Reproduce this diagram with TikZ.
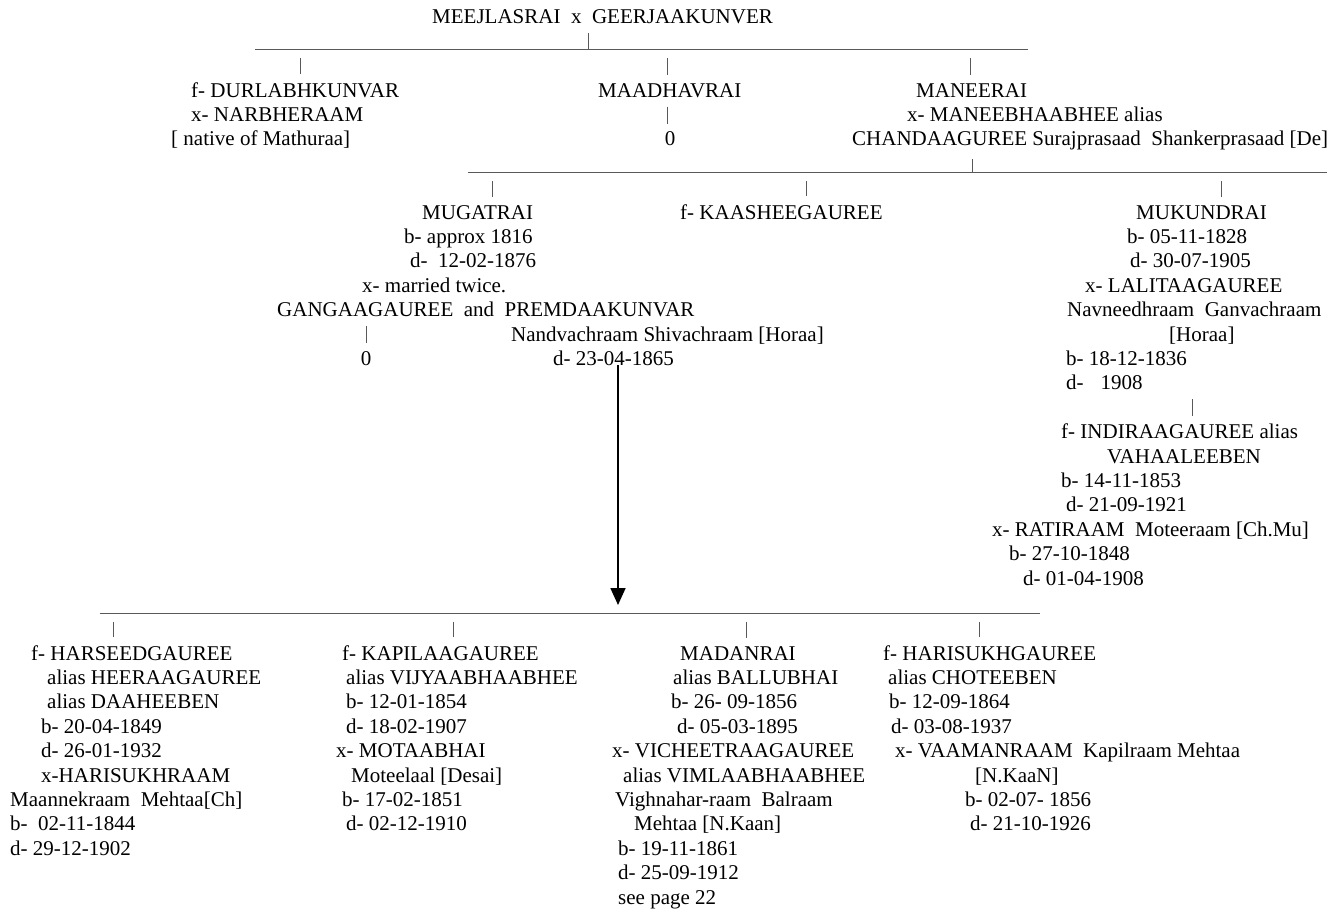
\documentclass[tikz,border=0pt]{standalone}
\usepackage{fontspec}
\setmainfont{Liberation Serif}
\usetikzlibrary{arrows.meta, calc}

\tikzset{
    txt/.style={anchor=base west, inner sep=0pt, font=\fontsize{21bp}{24bp}\selectfont},
    barline/.style={draw=black!65, line width=1bp},
    stemline/.style={draw=black!65, line width=1bp, shorten <=9bp, shorten >=8bp},
    arrowline/.style={draw=black, line width=1.6bp, shorten >=8bp, -{Triangle[width=15bp, length=17bp]}}
}

\begin{document}
\begin{tikzpicture}[x=1bp, y=-1bp]
    \useasboundingbox (0,0) rectangle (1338,913);

    \node [txt] (head) at (432, 23.5) {MEEJLASRAI\ \ x\ \ GEERJAAKUNVER};

    \coordinate (bar1l) at (255, 49); \coordinate (bar1r) at (1028, 49); \coordinate (j1) at (588, 49);
    \coordinate (p11) at (300, 49); \coordinate (p12) at (667, 49); \coordinate (p13) at (970, 49);

    \node [txt] (durlabh) at (191, 97) {f- DURLABHKUNVAR};
    \node [txt] (narbh) at (191, 121.4) {x- NARBHERAAM};
    \node [txt] (mathura) at (171, 145.8) {[ native of Mathuraa]};
    \node [txt] (maadhav) at (598, 97) {MAADHAVRAI};
    \node [txt, anchor=base] (m0) at (670, 145.8) {0};
    \node [txt] (maneerai) at (916, 97) {MANEERAI};
    \node [txt] (manwife) at (907, 121.4) {x- MANEEBHAABHEE alias};
    \node [txt] (chanda) at (852, 145.8) {CHANDAAGUREE Surajprasaad\ \ Shankerprasaad [De]};

    \coordinate (bar2l) at (468, 172); \coordinate (bar2r) at (1327, 172); \coordinate (j2) at (972, 172);
    \coordinate (p21) at (492, 172); \coordinate (p22) at (806, 172); \coordinate (p23) at (1221, 172);

    \node [txt] (mugat) at (422, 219) {MUGATRAI};
    \node [txt] (mugb) at (404, 243.4) {b- approx 1816};
    \node [txt] (mugd) at (410, 267.8) {d-\ \ 12-02-1876};
    \node [txt] (mugx) at (362, 292.2) {x- married twice.};
    \node [txt] (mugwives) at (277, 316.6) {GANGAAGAUREE\ \ and\ \ PREMDAAKUNVAR};
    \node [txt, anchor=base] (g0) at (366, 365.4) {0};
    \node [txt] (nandv) at (511, 341) {Nandvachraam Shivachraam [Horaa]};
    \node [txt] (dmug) at (553, 365.4) {d- 23-04-1865};
    \node [txt] (kaashee) at (680, 219) {f- KAASHEEGAUREE};

    \node [txt] (mukund) at (1136, 219) {MUKUNDRAI};
    \node [txt] (mukb) at (1127, 243.4) {b- 05-11-1828};
    \node [txt] (mukd) at (1130, 267.8) {d- 30-07-1905};
    \node [txt] (mukx) at (1085, 292.2) {x- LALITAAGAUREE};
    \node [txt] (navn) at (1067, 316.6) {Navneedhraam\ \ Ganvachraam};
    \node [txt] (horaa) at (1169, 341) {[Horaa]};
    \node [txt] (lalb) at (1066, 365.4) {b- 18-12-1836};
    \node [txt] (lald) at (1066, 389.8) {d-\hspace{17bp}1908};
    \coordinate (s3) at (1192, 407);
    \node [txt] (indira) at (1061, 438.6) {f- INDIRAAGAUREE alias};
    \node [txt] (vahaal) at (1107, 463) {VAHAALEEBEN};
    \node [txt] (indb) at (1061, 487.4) {b- 14-11-1853};
    \node [txt] (indd) at (1066, 511.8) {d- 21-09-1921};
    \node [txt] (ratix) at (992, 536.2) {x- RATIRAAM\ \ Moteeraam [Ch.Mu]};
    \node [txt] (ratib) at (1009, 560.6) {b- 27-10-1848};
    \node [txt] (ratid) at (1023, 585) {d- 01-04-1908};

    \coordinate (bar3l) at (100, 613); \coordinate (bar3r) at (1040, 613); \coordinate (a3) at (618, 613);
    \coordinate (p31) at (113, 613); \coordinate (p32) at (453, 613); \coordinate (p33) at (746, 613); \coordinate (p34) at (979, 613);

    \node [txt] (harseed) at (31, 660) {f- HARSEEDGAUREE};
    \node [txt] (heeraa) at (47, 684.4) {alias HEERAAGAUREE};
    \node [txt] (daahee) at (47, 708.8) {alias DAAHEEBEN};
    \node [txt] (hb) at (41, 733.2) {b- 20-04-1849};
    \node [txt] (hd) at (41, 757.6) {d- 26-01-1932};
    \node [txt] (hx) at (41, 782) {x-HARISUKHRAAM};
    \node [txt] (maannek) at (10, 806.4) {Maannekraam\ \ Mehtaa[Ch]};
    \node [txt] (hxb) at (10, 830.8) {b-\ \ 02-11-1844};
    \node [txt] (hxd) at (10, 855.2) {d- 29-12-1902};

    \node [txt] (kapilaa) at (342, 660) {f- KAPILAAGAUREE};
    \node [txt] (vijyaa) at (346, 684.4) {alias VIJYAABHAABHEE};
    \node [txt] (kb) at (346, 708.8) {b- 12-01-1854};
    \node [txt] (kd) at (346, 733.2) {d- 18-02-1907};
    \node [txt] (kx) at (336, 757.6) {x- MOTAABHAI};
    \node [txt] (moteel) at (351, 782) {Moteelaal [Desai]};
    \node [txt] (kxb) at (342, 806.4) {b- 17-02-1851};
    \node [txt] (kxd) at (346, 830.8) {d- 02-12-1910};

    \node [txt] (madan) at (680, 660) {MADANRAI};
    \node [txt] (ballu) at (673, 684.4) {alias BALLUBHAI};
    \node [txt] (mb) at (671, 708.8) {b- 26- 09-1856};
    \node [txt] (md) at (677, 733.2) {d- 05-03-1895};
    \node [txt] (mx) at (612, 757.6) {x- VICHEETRAAGAUREE};
    \node [txt] (vimlaa) at (623, 782) {alias VIMLAABHAABHEE};
    \node [txt] (vighn) at (615, 806.4) {Vighnahar-raam\ \ Balraam};
    \node [txt] (mehtaa) at (634, 830.8) {Mehtaa [N.Kaan]};
    \node [txt] (mxb) at (618, 855.2) {b- 19-11-1861};
    \node [txt] (mxd) at (618, 879.6) {d- 25-09-1912};
    \node [txt] (seep) at (618, 904) {see page 22};

    \node [txt] (harisukh) at (883, 660) {f- HARISUKHGAUREE};
    \node [txt] (chotee) at (888, 684.4) {alias CHOTEEBEN};
    \node [txt] (sb) at (889, 708.8) {b- 12-09-1864};
    \node [txt] (sd) at (891, 733.2) {d- 03-08-1937};
    \node [txt] (sx) at (895, 757.6) {x- VAAMANRAAM\ \ Kapilraam Mehtaa};
    \node [txt] (nkaan) at (975, 782) {[N.KaaN]};
    \node [txt] (sxb) at (965, 806.4) {b- 02-07- 1856};
    \node [txt] (sxd) at (970, 830.8) {d- 21-10-1926};

    \draw [barline] (bar1l) -- (bar1r);
    \draw [stemline, shorten >=0bp] (j1 |- head.south) -- (j1);
    \draw [stemline] (p11) -- (p11 |- durlabh.north);
    \draw [stemline] (p12) -- (p12 |- maadhav.north);
    \draw [stemline] (p13) -- (p13 |- maneerai.north);
    \draw [stemline] (p12 |- maadhav.south) -- (p12 |- m0.north);

    \draw [barline] (bar2l) -- (bar2r);
    \draw [stemline, shorten >=0bp] (j2 |- chanda.south) -- (j2);
    \draw [stemline] (p21) -- (p21 |- mugat.north);
    \draw [stemline] (p22) -- (p22 |- kaashee.north);
    \draw [stemline] (p23) -- (p23 |- mukund.north);
    \draw [stemline] (g0 |- mugwives.south) -- (g0.north);
    \draw [stemline] (s3 |- lald.south) -- (s3 |- indira.north);

    \draw [barline] (bar3l) -- (bar3r);
    \draw [arrowline] (a3 |- dmug.base) -- (a3);
    \draw [stemline] (p31) -- (p31 |- harseed.north);
    \draw [stemline] (p32) -- (p32 |- kapilaa.north);
    \draw [stemline] (p33) -- (p33 |- madan.north);
    \draw [stemline] (p34) -- (p34 |- harisukh.north);
\end{tikzpicture}
\end{document}
